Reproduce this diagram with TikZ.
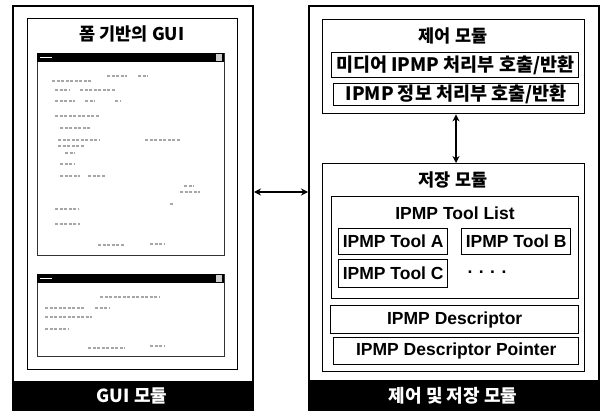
\documentclass[tikz,border=0pt]{standalone}
\usepackage{fontspec}
\setmainfont{Liberation Sans}
\newfontfamily\kr{Noto Sans CJK KR}
\usetikzlibrary{arrows.meta}
\tikzset{
  outerbox/.style={draw=black, line width=2pt},
  innerbox/.style={draw=black, line width=1.4pt},
  itembox/.style={draw=black, line width=1.4pt, inner sep=0pt},
  titletxt/.style={font=\kr\bfseries\fontsize{17.5}{17.5}\selectfont},
  calltxt/.style={font=\kr\bfseries\fontsize{18.5}{18.5}\selectfont},
  itemtxt/.style={font=\bfseries\fontsize{17.5}{17.5}\selectfont},
  bartxt/.style={font=\kr\bfseries\fontsize{18}{18}\selectfont, text=white},
  conn/.style={line width=2pt, {Stealth[length=7pt,width=7pt]}-{Stealth[length=7pt,width=7pt]}},
  scrib/.style={draw=gray!70, line width=1.3pt, dash pattern=on 3pt off 1.5pt},
  win/.style={draw=black!80, line width=1.2pt, fill=white},
}
\begin{document}
\begin{tikzpicture}[x=1pt,y=-1pt]
\useasboundingbox (0,0) rectangle (600,412);
\fill[white] (0,0) rectangle (600,412);

% ===== Left: GUI module =====
\node[outerbox, minimum width=240pt, minimum height=404pt, anchor=north west, inner sep=0pt] (gui) at (12,5) {};
\fill[black] (12,381) rectangle (252,409);
\node[bartxt] (guibar) at (132,396) {GUI 모듈};
\node[innerbox, minimum width=210pt, minimum height=351pt, anchor=north west, inner sep=0pt] (guiin) at (27,18) {};
\node[titletxt] (guititle) at (132,34) {폼 기반의 GUI};

% window 1
\node[win, minimum width=187pt, minimum height=202pt, anchor=north west, inner sep=0pt] (win1) at (37,53) {};
\fill[black] (37,53) rectangle (224,62);
\fill[gray!40] (216,54) rectangle (222,61);
\draw[white, line width=1pt] (40,57.5) -- (52,57.5);
% window 1 scribbles
\draw[scrib] (107,76) -- (127,76) (138,76) -- (148,76);
\draw[scrib] (52,81) -- (92,81);
\draw[scrib] (55,90) -- (70,90) (80,90) -- (115,90);
\draw[scrib] (55,101) -- (75,101) (85,101) -- (95,101) (115,101) -- (120,101);
\draw[scrib] (55,116) -- (100,116);
\draw[scrib] (60,128) -- (90,128);
\draw[scrib] (58,140) -- (100,140) (145,140) -- (180,140);
\draw[scrib] (58,146) -- (85,146);
\draw[scrib] (65,153) -- (75,153);
\draw[scrib] (60,164) -- (75,164);
\draw[scrib] (60,176) -- (80,176) (88,176) -- (105,176);
\draw[scrib] (184,186) -- (194,186);
\draw[scrib] (180,192) -- (200,192);
\draw[scrib] (170,204) -- (174,204);
\draw[scrib] (55,209) -- (78,209);
\draw[scrib] (55,224) -- (80,224);
\draw[scrib] (98,245) -- (125,245) (150,244) -- (165,244);

% window 2
\node[win, minimum width=187pt, minimum height=82pt, anchor=north west, inner sep=0pt] (win2) at (37,274) {};
\fill[black] (37,274) rectangle (224,283);
\fill[gray!40] (216,275) rectangle (222,282);
\draw[white, line width=1pt] (40,278.5) -- (52,278.5);
\draw[scrib] (100,297) -- (160,297);
\draw[scrib] (45,308) -- (85,308) (95,308) -- (110,308);
\draw[scrib] (45,317) -- (92,317);
\draw[scrib] (45,329) -- (68,329);
\draw[scrib] (88,348) -- (125,348) (150,346) -- (165,346);

% ===== Right: control & storage module =====
\node[outerbox, minimum width=290pt, minimum height=404pt, anchor=north west, inner sep=0pt] (cs) at (308,5) {};
\fill[black] (308,380) rectangle (598,409);
\node[bartxt] (csbar) at (453,396) {제어 및 저장 모듈};

% control module
\node[innerbox, minimum width=262pt, minimum height=94pt, anchor=north west, inner sep=0pt] (ctrl) at (322,19) {};
\node[titletxt] (ctrltitle) at (453,36) {제어 모듈};
\node[itembox, minimum width=247pt, minimum height=25pt, anchor=north west] (call1) at (331,52) {};
\node[calltxt] (call1t) at (call1.center) {미디어 IPMP 처리부 호출/반환};
\node[itembox, minimum width=245pt, minimum height=22pt, anchor=north west] (call2) at (333,83) {};
\node[calltxt] (call2t) at (call2.center) {IPMP 정보 처리부 호출/반환};

% storage module
\node[innerbox, minimum width=262pt, minimum height=208pt, anchor=north west, inner sep=0pt] (stor) at (322,163) {};
\node[titletxt] (stortitle) at (453,180) {저장 모듈};
\node[itembox, minimum width=247pt, minimum height=102pt, anchor=north west] (tlist) at (331,196) {};
\node[itemtxt] (tlistt) at (455,213) {IPMP Tool List};
\node[itembox, minimum width=109pt, minimum height=26pt, anchor=north west] (toolA) at (338,228) {};
\node[itemtxt] at (toolA.center) {IPMP Tool A};
\node[itembox, minimum width=109pt, minimum height=26pt, anchor=north west] (toolB) at (461,228) {};
\node[itemtxt] at (toolB.center) {IPMP Tool B};
\node[itembox, minimum width=109pt, minimum height=28pt, anchor=north west] (toolC) at (338,259) {};
\node[itemtxt] at (toolC.center) {IPMP Tool C};
\node[itemtxt] (dots) at (487,272) {. . . .};
\node[itembox, minimum width=248pt, minimum height=28pt, anchor=north west] (desc) at (330,305) {};
\node[itemtxt] at (desc.center) {IPMP Descriptor};
\node[itembox, minimum width=245pt, minimum height=27pt, anchor=north west] (dptr) at (333,337) {};
\node[itemtxt] at (dptr.center) {IPMP Descriptor Pointer};

% connectors
\coordinate (ay) at (0,192);
\coordinate (ax) at (456,0);
\draw[conn] (gui.east |- ay) -- (cs.west |- ay);
\draw[conn] (ctrl.south -| ax) -- (stor.north -| ax);
\end{tikzpicture}
\end{document}
